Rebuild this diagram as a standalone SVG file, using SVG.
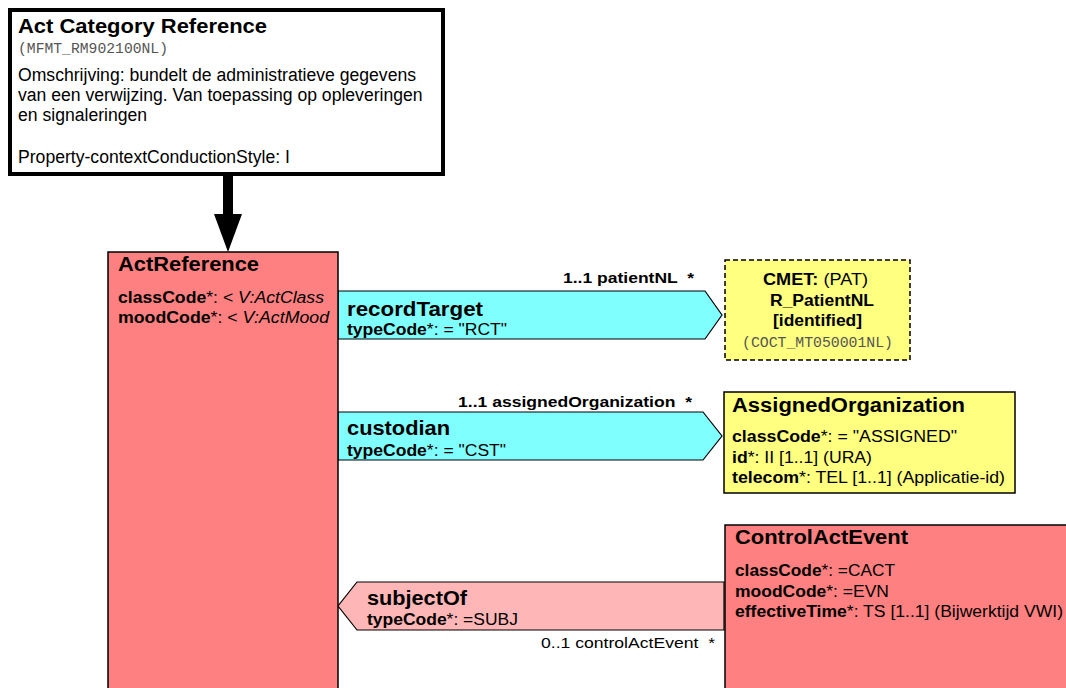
<svg xmlns="http://www.w3.org/2000/svg" width="1066" height="688" viewBox="0 0 1066 688">
<style>
text{font-family:"Liberation Sans",Arial,sans-serif;fill:#000}
.t{font-size:20px;font-weight:bold}
.a{font-size:16px}
.s{font-size:16px}
.c{font-size:15px}
.h{font-size:17.6px}
.m{font-family:"Liberation Mono","Courier New",monospace;font-size:14px;fill:#555}
.b{font-weight:bold}
.act{fill:#FF8080;stroke:#000;stroke-width:1.5}
.part{fill:#FFFF80;stroke:#000;stroke-width:1.5}
.conn{stroke:#000;stroke-width:1.2}
</style>
<rect width="1066" height="688" fill="#fff"/>
<g id="header">
<rect x="10" y="10" width="433" height="164" fill="#fff" stroke="#000" stroke-width="4"/>
<text x="18" y="33" class="t" textLength="249" lengthAdjust="spacingAndGlyphs">Act Category Reference</text>
<text x="18" y="53" class="m" textLength="150" lengthAdjust="spacingAndGlyphs">(MFMT_RM902100NL)</text>
<text x="18" y="81" class="h">Omschrijving: bundelt de administratieve gegevens</text>
<text x="18" y="101" class="h">van een verwijzing. Van toepassing op opleveringen</text>
<text x="18" y="121" class="h">en signaleringen</text>
<text x="18" y="163" class="h">Property-contextConductionStyle: I</text>
</g>
<g id="connectors">
<path d="M223,176 H233 V214 H242 L228,252 L214,214 H223 Z" fill="#000"/>
<g id="recordTarget">
<path d="M338,291 H705 L722,315 L705,339 H338 Z" fill="#80FFFF" class="conn"/>
<text x="347" y="316" class="t" textLength="136" lengthAdjust="spacingAndGlyphs">recordTarget</text>
<text x="347" y="335" class="s" textLength="160" lengthAdjust="spacingAndGlyphs"><tspan class="b">typeCode</tspan>*: = "RCT"</text>
<text x="563" y="283" class="c b" xml:space="preserve" textLength="131" lengthAdjust="spacingAndGlyphs">1..1 patientNL  *</text>
</g>
<g id="custodian">
<path d="M338,412 H703 L722,436 L703,460 H338 Z" fill="#80FFFF" class="conn"/>
<text x="347" y="435" class="t" textLength="103" lengthAdjust="spacingAndGlyphs">custodian</text>
<text x="347" y="456" class="s" textLength="159" lengthAdjust="spacingAndGlyphs"><tspan class="b">typeCode</tspan>*: = "CST"</text>
<text x="458" y="407" class="c b" xml:space="preserve" textLength="234" lengthAdjust="spacingAndGlyphs">1..1 assignedOrganization  *</text>
</g>
<g id="subjectOf">
<path d="M724,582 H357 L338,606 L357,630 H724 Z" fill="#FFB6B6" class="conn"/>
<text x="367" y="605" class="t" textLength="100" lengthAdjust="spacingAndGlyphs">subjectOf</text>
<text x="367" y="625" class="s" textLength="151" lengthAdjust="spacingAndGlyphs"><tspan class="b">typeCode</tspan>*: =SUBJ</text>
<text x="541" y="648" class="c" xml:space="preserve" textLength="174" lengthAdjust="spacingAndGlyphs">0..1 controlActEvent  *</text>
</g>
</g>
<g id="ActReference">
<rect x="108" y="252" width="230" height="450" class="act"/>
<text x="118" y="271" class="t" textLength="141" lengthAdjust="spacingAndGlyphs">ActReference</text>
<text x="118" y="303" class="a" textLength="206" lengthAdjust="spacingAndGlyphs"><tspan class="b">classCode</tspan>*: &lt; <tspan font-style="italic">V:ActClass</tspan></text>
<text x="118" y="323" class="a" textLength="211" lengthAdjust="spacingAndGlyphs"><tspan class="b">moodCode</tspan>*: &lt; <tspan font-style="italic">V:ActMood</tspan></text>
</g>
<g id="PatientNL">
<rect x="725" y="260" width="185" height="100" fill="#FFFF80" stroke="#000" stroke-width="1.5" stroke-dasharray="5,3"/>
<text x="763" y="285" class="a" textLength="105" lengthAdjust="spacingAndGlyphs"><tspan class="b">CMET:</tspan> (PAT)</text>
<text x="770" y="306" class="a b" textLength="104" lengthAdjust="spacingAndGlyphs">R_PatientNL</text>
<text x="773" y="326" class="a b" textLength="89" lengthAdjust="spacingAndGlyphs">[identified]</text>
<text x="742" y="347" class="m" textLength="151" lengthAdjust="spacingAndGlyphs">(COCT_MT050001NL)</text>
</g>
<g id="AssignedOrganization">
<rect x="724" y="392" width="291" height="101" class="part"/>
<text x="732" y="412" class="t" textLength="233" lengthAdjust="spacingAndGlyphs">AssignedOrganization</text>
<text x="732" y="442" class="a" textLength="225" lengthAdjust="spacingAndGlyphs"><tspan class="b">classCode</tspan>*: = "ASSIGNED"</text>
<text x="732" y="463" class="a" textLength="140" lengthAdjust="spacingAndGlyphs"><tspan class="b">id</tspan>*: II [1..1] (URA)</text>
<text x="732" y="483" class="a" textLength="273" lengthAdjust="spacingAndGlyphs"><tspan class="b">telecom</tspan>*: TEL [1..1] (Applicatie-id)</text>
</g>
<g id="ControlActEvent">
<rect x="725" y="525" width="360" height="180" class="act"/>
<text x="735" y="544" class="t" textLength="173" lengthAdjust="spacingAndGlyphs">ControlActEvent</text>
<text x="735" y="576" class="a" textLength="160" lengthAdjust="spacingAndGlyphs"><tspan class="b">classCode</tspan>*: =CACT</text>
<text x="735" y="597" class="a" textLength="154" lengthAdjust="spacingAndGlyphs"><tspan class="b">moodCode</tspan>*: =EVN</text>
<text x="735" y="617" class="a" textLength="328" lengthAdjust="spacingAndGlyphs"><tspan class="b">effectiveTime</tspan>*: TS [1..1] (Bijwerktijd VWI)</text>
</g>
</svg>
